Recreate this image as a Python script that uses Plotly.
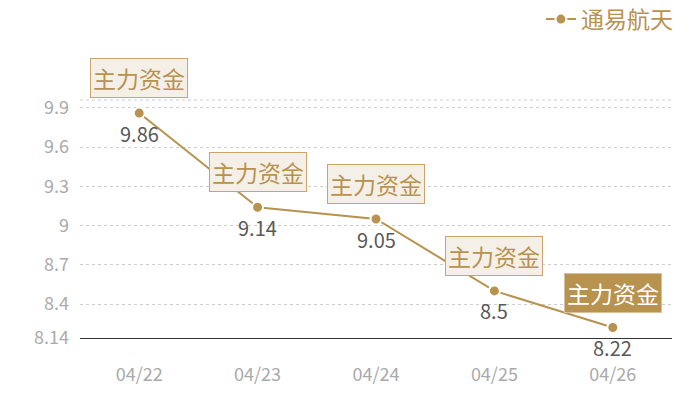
import plotly.graph_objects as go

# data
dates = ["04/22", "04/23", "04/24", "04/25", "04/26"]
prices = [9.86, 9.14, 9.05, 8.5, 8.22]
flow_label = "主力资金"
series_name = "通易航天"
y_ticks = [8.14, 8.4, 8.7, 9, 9.3, 9.6, 9.9]

gold = "#b8924f"
cjk = "Noto Sans CJK SC"

fig = go.Figure()

fig.add_trace(go.Scatter(
    x=dates, y=prices, name=series_name,
    mode="lines+markers",
    line=dict(color=gold, width=2),
    marker=dict(color=gold, size=11, line=dict(color="white", width=2)),
    cliponaxis=False,
))

for i, (d, v) in enumerate(zip(dates, prices)):
    last = i == len(dates) - 1
    # value label under the point
    fig.add_annotation(
        x=d, y=v, yshift=-20, text=str(v), showarrow=False,
        font=dict(family=cjk, size=20, color="#595959"),
    )
    # "主力资金" tag above the point, last one highlighted
    fig.add_annotation(
        x=d, y=v, yshift=35, text=flow_label, showarrow=False,
        font=dict(family=cjk, size=23, color="white" if last else gold),
        bgcolor=gold if last else "#f4efe7",
        bordercolor="#d9c299" if last else "#c9a56c",
        borderwidth=1, borderpad=2,
    )

fig.update_layout(
    width=700, height=400,
    margin=dict(l=72, r=36, t=92, b=70, autoexpand=False),
    plot_bgcolor="white", paper_bgcolor="white",
    showlegend=True,
    legend=dict(x=1.01, y=1.43, xanchor="right", yanchor="top",
                font=dict(family=cjk, size=23, color=gold),
                bgcolor="rgba(0,0,0,0)"),
)

fig.update_xaxes(
    type="category", range=[-0.5, 4.5],
    showgrid=False, showline=True, linecolor="#333333", linewidth=1,
    ticks="", ticklabelstandoff=20,
    tickfont=dict(family=cjk, size=18, color="#aaaaaa"),
)
fig.update_yaxes(
    range=[8.14, 9.96], tickvals=y_ticks, ticktext=[str(t) for t in y_ticks],
    showgrid=True, gridcolor="#cccccc", griddash="dot", gridwidth=1,
    zeroline=False, showline=False, ticks="", ticklabelstandoff=10,
    tickfont=dict(family=cjk, size=18, color="#aaaaaa"),
)
# top border gridline
fig.add_shape(type="line", xref="paper", yref="paper", x0=0, x1=1, y0=1, y1=1,
              line=dict(color="#cccccc", width=1, dash="dot"))

fig.write_html("out.html")
